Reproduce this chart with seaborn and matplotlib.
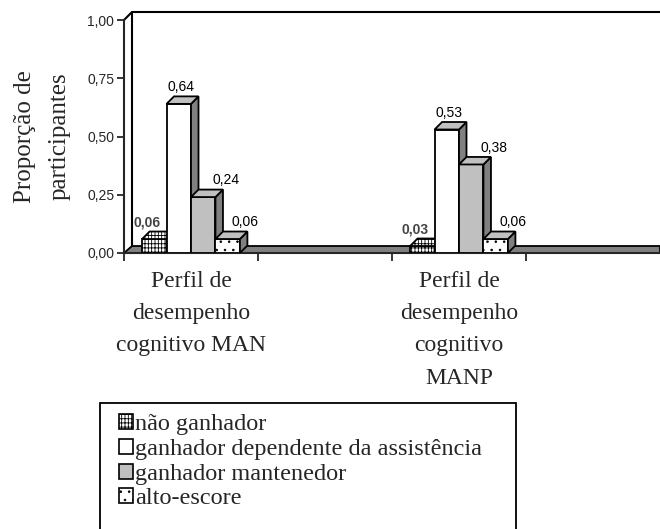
import numpy as np
import pandas as pd
import matplotlib
matplotlib.use("Agg")
import matplotlib.pyplot as plt
import seaborn as sns
from matplotlib.patches import Polygon, Rectangle, Patch

# === Dados ===
perfis = ["MAN", "MANP"]
ordem = ["MAN", "vazio1", "MANP", "vazio2"]
rotulos_x = ["Perfil de\ndesempenho\ncognitivo MAN", "Perfil de\ndesempenho\ncognitivo\nMANP"]
series = ["não ganhador", "ganhador dependente da assistência",
          "ganhador mantenedor", "alto-escore"]
nao_ganhador = [0.06, 0.03]
dependente = [0.64, 0.53]
mantenedor = [0.24, 0.38]
alto_escore = [0.06, 0.06]
yticks = [0.00, 0.25, 0.50, 0.75, 1.00]

# === Estilo ===
cores = {series[0]: "white", series[1]: "white", series[2]: "#c0c0c0", series[3]: "white"}
hatches = ["++++|", "", "", ".."]
topo = ["white", "#c0c0c0", "#c0c0c0", "#c0c0c0"]
lado = ["white", "#808080", "#808080", "#808080"]
desloc_rotulo = [-7, 2, 23, 17]  # px
serif = ["Liberation Serif", "DejaVu Serif"]

sns.set_style("ticks")
plt.rcParams["font.family"] = ["Liberation Sans", "DejaVu Sans"]
plt.rcParams["hatch.linewidth"] = 0.6

df = pd.DataFrame({
    "perfil": np.repeat(perfis, 4),
    "grupo": series * 2,
    "prop": [v for i in range(2) for v in (nao_ganhador[i], dependente[i], mantenedor[i], alto_escore[i])],
})

W, H = 660, 529
fig = plt.figure(figsize=(W / 100, H / 100), dpi=100)
ax = fig.add_axes([124 / W, 1 - 253 / H, 536 / W, 233 / H])

largura = 0.73
sns.barplot(data=df, x="perfil", y="prop", hue="grupo", order=ordem, hue_order=series,
            palette=cores, width=largura, saturation=1, edgecolor="black", linewidth=1.3,
            errorbar=None, legend=False, ax=ax)

ax.set_xlim(-0.5, 3.5)
ax.set_ylim(0, 1)
dx = 7.5 / 134
dy = 7.5 / 233

# chao e parede de fundo
chao = Polygon([(-0.5, 0), (3.5, 0), (3.5, dy), (-0.5 + dx, dy)], closed=True,
               facecolor="#808080", edgecolor="black", lw=1.3, zorder=1.5, clip_on=False)
ax.add_patch(chao)
ax.plot([-0.5 + dx, -0.5 + dx, 3.5], [dy, 1 + dy, 1 + dy], color="black", lw=1.5,
        clip_on=False, zorder=1.5)
ax.plot([-0.5, -0.5 + dx], [1, 1 + dy], color="black", lw=1.5, clip_on=False, zorder=1.5)

# barras 3D
bw = largura / 4
for p in list(ax.patches):
    if p is chao:
        continue
    x0 = p.get_x()
    w = p.get_width()
    h = p.get_height()
    if np.isnan(h):
        continue
    xc = x0 + w / 2
    cat = round(xc)
    i = int(round((xc - cat) / bw + 1.5))
    x1 = x0 + w
    z = 3 + i
    p.set_zorder(z)
    p.set_hatch(hatches[i])
    ax.add_patch(Polygon([(x1, 0), (x1, h), (x1 + dx, h + dy), (x1 + dx, dy)], closed=True,
                         facecolor=lado[i], edgecolor="black", lw=1.3, hatch=hatches[i] if i == 0 else None,
                         zorder=z))
    ax.add_patch(Polygon([(x0, h), (x1, h), (x1 + dx, h + dy), (x0 + dx, h + dy)], closed=True,
                         facecolor=topo[i], edgecolor="black", lw=1.3, hatch=hatches[i] if i == 0 else None,
                         zorder=z))
    ax.text(xc + desloc_rotulo[i] / 134, h + dy + 0.01, f"{h:.2f}".replace(".", ","),
            ha="center", va="bottom", fontsize=10, zorder=10,
            fontweight="bold" if i == 0 else "normal",
            color="#444444" if i == 0 else "black")

# eixos
for s in ["top", "right"]:
    ax.spines[s].set_visible(False)
for s in ["left", "bottom"]:
    ax.spines[s].set_linewidth(1.5)
    ax.spines[s].set_zorder(2)

ax.set_yticks(yticks, [f"{v:.2f}".replace(".", ",") for v in yticks])
ax.tick_params(axis="y", length=5, width=1.3, labelsize=10, pad=2)
ax.set_xticks([-0.5, 0.5, 1.5, 2.5], ["", "", "", ""])
ax.tick_params(axis="x", which="major", length=6, width=1.3)
ax.set_xticks([0, 2], rotulos_x, minor=True)
ax.tick_params(axis="x", which="minor", length=0, pad=13)
for t in ax.get_xticklabels(minor=True):
    t.set_fontfamily(serif)
    t.set_fontsize(17)
    t.set_linespacing(1.7)
    t.set_verticalalignment("top")

ax.set_xlabel("")
ax.set_ylabel("Proporção de\nparticipantes", fontsize=18, family=serif, linespacing=1.75)
ax.yaxis.set_label_coords(-0.1, 0.5)

# legenda
handles = [Patch(facecolor=cores[s], edgecolor="black", hatch=hatches[i], lw=1.2)
           for i, s in enumerate(series)]
fig.legend(handles, series, loc="upper left", bbox_to_anchor=(119 / W, 1 - 414 / H),
           frameon=False, prop={"family": serif, "size": 17.5}, borderpad=0, borderaxespad=0,
           handlelength=0.58, handleheight=0.58, handletextpad=0.08, labelspacing=0.15)
fig.patches.append(Rectangle((100 / W, -0.05), 416 / W, (529 - 403) / H + 0.05,
                             transform=fig.transFigure, fill=False, edgecolor="black",
                             lw=1.3, clip_on=False))

fig.savefig("out.png", dpi=100)
